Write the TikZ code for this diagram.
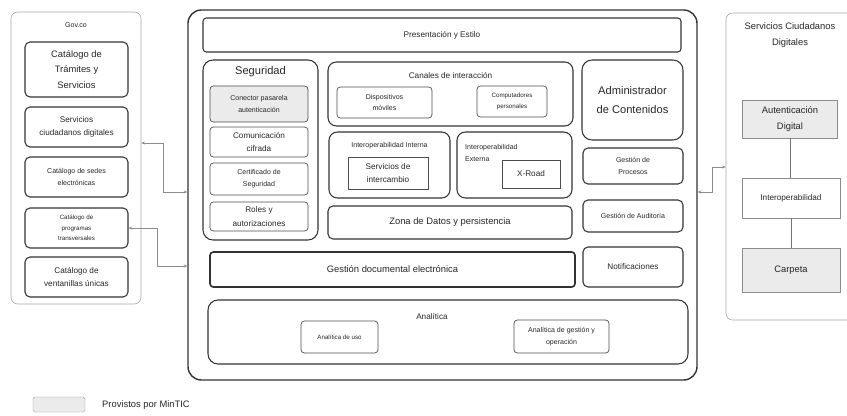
\documentclass[tikz,border=0pt]{standalone}
\usepackage{fontspec}
\setmainfont{Liberation Sans}
\usetikzlibrary{arrows.meta}

\begin{document}
\begin{tikzpicture}[x=0.3mm, y=-0.3mm,
    every node/.style={text=black!85, align=center, inner sep=0pt},
    sz/.style 2 args={minimum width=#1*0.3mm, minimum height=#2*0.3mm},
    panel/.style={draw=black!35, line width=0.5pt, rounded corners=2mm},
    blk/.style={draw=black!80, line width=0.9pt, rounded corners=1.5mm},
    sblk/.style={draw=black!70, line width=0.6pt, rounded corners=1mm},
    sq/.style={draw=black!45, line width=0.6pt},
    mintic/.style={fill=black!8},
    link/.style={draw=black!45, line width=0.5pt,
        {Stealth[length=3pt,width=2.5pt]}-{Stealth[length=3pt,width=2.5pt]}},
    tx9/.style={font=\fontsize{9.5}{17}\selectfont},
    tx8/.style={font=\fontsize{8}{13}\selectfont},
    tx7/.style={font=\fontsize{7}{11.5}\selectfont},
    tx6/.style={font=\fontsize{6}{10}\selectfont},
    tx5/.style={font=\fontsize{5.3}{9}\selectfont}]
    \clip (0,0) rectangle (847,416);

    % Gov.co
    \node[panel, sz={130}{292}] (gov) at (76,158) {};
    \node[tx6] (govT) at (76,25) {Gov.co};
    \node[blk, sz={103}{55}, tx8] (tramites) at (76.5,69.5) {Catálogo de\\Trámites y\\Servicios};
    \node[blk, sz={103}{40}, tx7] (scdig) at (76.5,127) {Servicios\\ciudadanos digitales};
    \node[blk, sz={103}{40}, tx6] (sedes) at (76.5,177) {Catálogo de sedes\\electrónicas};
    \node[blk, sz={103}{40}, tx5] (programas) at (76.5,228) {Catálogo de\\programas\\transversales};
    \node[blk, sz={103}{40}, tx7] (ventanillas) at (76.5,277) {Catálogo de\\ventanillas únicas};

    % plataforma
    \node[draw=black!80, line width=1.2pt, rounded corners=4mm, sz={509}{370}] (plat) at (442.5,195) {};
    \node[blk, rounded corners=1mm, sz={478}{34}, tx7] (pres) at (442,35) {Presentación y Estilo};

    \node[blk, rounded corners=3mm, sz={115}{180}] (seg) at (260.5,150) {};
    \node[tx9] (segT) at (260.5,72) {Seguridad};
    \node[sblk, mintic, sz={98}{36}, tx6] (conector) at (259,104) {Conector pasarela\\autenticación};
    \node[sblk, sz={98}{30}, tx7] (cifrada) at (259,142) {Comunicación\\cifrada};
    \node[sblk, sz={98}{32}, tx6] (certif) at (259,179) {Certificado de\\Seguridad};
    \node[sblk, sz={98}{29}, tx7] (roles) at (259,216.5) {Roles y\\autorizaciones};

    \node[blk, rounded corners=2.5mm, sz={245}{64}] (canales) at (450.5,94) {};
    \node[tx7] (canT) at (450.5,76) {Canales de interacción};
    \node[sblk, sz={95}{31}, tx6] (moviles) at (384.5,102.5) {Dispositivos\\móviles};
    \node[sblk, sz={70}{31}, tx5] (pcs) at (512,101.5) {Computadores\\personales};

    \node[blk, rounded corners=2.5mm, sz={121}{66}] (iint) at (389.5,165) {};
    \node[tx6] (iintT) at (389.5,146) {Interoperabilidad Interna};
    \node[sq, draw=black!70, sz={80}{32}, tx7] (interc) at (388,173) {Servicios de\\intercambio};
    \node[blk, rounded corners=2.5mm, sz={115}{66}] (iext) at (514.5,165) {};
    \node[tx6, anchor=west, align=left] (iextT) at (465,153) {Interoperabilidad\\Externa};
    \node[sq, draw=black!70, sz={58}{28}, tx7] (xroad) at (531,174) {X-Road};

    \node[blk, sz={244}{33}, tx8] (zona) at (450,222.5) {Zona de Datos y persistencia};
    \node[blk, line width=1.4pt, rounded corners=1mm, sz={365}{35}, tx8] (gde) at (392.5,269.5) {Gestión documental electrónica};

    \node[blk, rounded corners=3mm, sz={101}{80}, tx9] (admin) at (632.5,100) {Administrador\\de Contenidos};
    \node[blk, sz={100}{36}, tx6] (gproc) at (633,166) {Gestión de\\Procesos};
    \node[blk, sz={100}{32}, tx6] (gaud) at (633,216) {Gestión de Auditoría};
    \node[blk, sz={100}{40}, tx7] (notif) at (633,267) {Notificaciones};

    \node[blk, rounded corners=3mm, sz={480}{64}] (analitica) at (448,332) {};
    \node[tx7] (anaT) at (432,317) {Analítica};
    \node[sblk, sz={77}{32}, tx5] (auso) at (339.5,337) {Analítica de uso};
    \node[sblk, sz={95}{33}, tx6] (agest) at (561.5,336.5) {Analítica de gestión y\\operación};

    % servicios ciudadanos digitales
    \node[panel, sz={134}{307}] (scd) at (793,166.5) {};
    \node[tx8] (scdT) at (790,35) {Servicios Ciudadanos\\Digitales};
    \node[sq, mintic, sz={95}{38}, tx8] (autent) at (790,119) {Autenticación\\Digital};
    \node[sq, sz={98}{40}, tx7] (interop) at (791,198) {Interoperabilidad};
    \node[sq, mintic, sz={98}{44}, tx8] (carpeta) at (791,270) {Carpeta};
    \draw[black!55] (autent.south) -- (autent.south |- interop.north);
    \draw[black!55] (interop.south) -- (interop.south |- carpeta.north);

    % conexiones
    \draw[link] (gov.east |- 0,143) -| (163,192) -- (plat.west |- 0,192);
    \draw[link] (programas.east) -| (157,266) -- (plat.west |- 0,266);
    \draw[link] (plat.east |- 0,192) -| (712,167) -- (scd.west |- 0,167);

    % convenciones
    \node[draw=black!40, fill=black!8, rounded corners=0.5mm, sz={52}{15}] (legbox) at (59,404.5) {};
    \node[tx8, anchor=west] (legT) at (102,405) {Provistos por MinTIC};
\end{tikzpicture}
\end{document}
